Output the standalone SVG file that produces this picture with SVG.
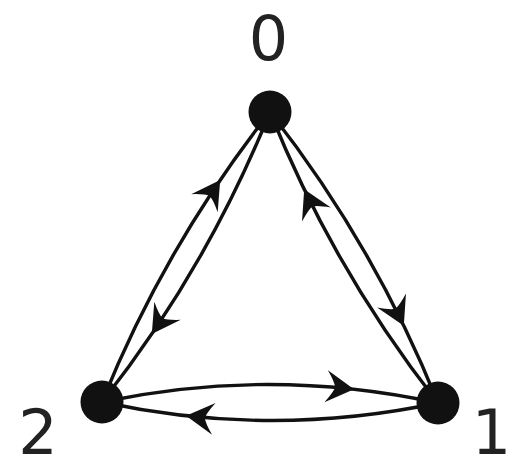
<svg xmlns="http://www.w3.org/2000/svg" width="513" height="469" viewBox="0 0 513 469">
<style>
.edge{fill:none;stroke:#111;stroke-width:3.4}
.node{fill:#111}
.lbl{font-family:"DejaVu Sans","Liberation Sans",sans-serif;font-size:62px;fill:#222;text-anchor:middle}
.arr{fill:#111}
</style>
<defs>
<path id="ah" class="arr" d="M0,0 L-28,-16 Q-20,-5 -19,0 Q-20,5 -28,16 Z"/>
</defs>
<rect width="513" height="469" fill="#fff"/>
<g id="connectors">
<path class="edge" d="M102,402 Q165.2,245 270,112"/>
<path class="edge" d="M270,112 Q206.8,269 102,402"/>
<path class="edge" d="M270,112 Q374.8,245.5 438,403"/>
<path class="edge" d="M438,403 Q333.2,269.5 270,112"/>
<path class="edge" d="M102,402 Q270,366.5 438,403"/>
<path class="edge" d="M438,403 Q270,438.5 102,402"/>
<use href="#ah" transform="translate(220.2,180) rotate(-55.8)"/>
<use href="#ah" transform="translate(151.8,334) rotate(124.2)"/>
<use href="#ah" transform="translate(403.8,325.8) rotate(64.1)"/>
<use href="#ah" transform="translate(304.2,189.3) rotate(-115.9)"/>
<use href="#ah" transform="translate(354,389.3) rotate(6.3)"/>
<use href="#ah" transform="translate(186,415.8) rotate(186.3)"/>
</g>
<g id="node0"><circle class="node" cx="270" cy="112" r="21.5"/><text class="lbl" x="268.5" y="60">0</text></g>
<g id="node1"><circle class="node" cx="438" cy="403" r="21.5"/><text class="lbl" x="491.5" y="454">1</text></g>
<g id="node2"><circle class="node" cx="102" cy="402" r="21.5"/><text class="lbl" x="38" y="454">2</text></g>
</svg>
